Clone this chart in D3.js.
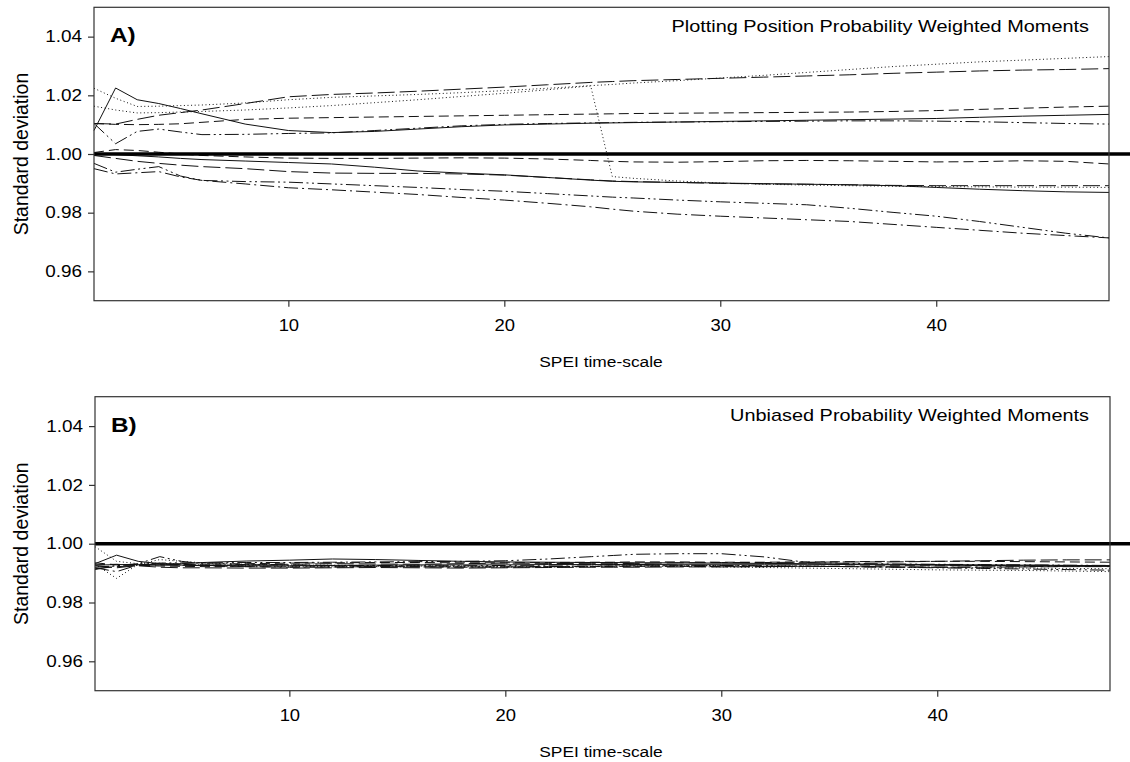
<!DOCTYPE html>
<html><head><meta charset="utf-8">
<script src="https://cdn.jsdelivr.net/npm/d3@7"></script>
<style>
html,body{margin:0;padding:0;background:#fff;}
text{font-family:"Liberation Sans",Arial,sans-serif;fill:#000;}
</style></head>
<body><svg id="chart" width="1130" height="762"></svg>
<script>
// ---------- DATA ----------
const timeScale = [1,2,3,4,5,6,8,10,12,14,16,18,20,22,24,25,26,28,30,32,34,36,38,40,42,44,46,48];
const yTicks = [0.96,0.98,1.00,1.02,1.04];
const xTicks = [10,20,30,40];
const referenceValue = 1.00;
const panelLabels = ["A)","B)"];
const panelTitles = ["Plotting Position Probability Weighted Moments","Unbiased Probability Weighted Moments"];
const xAxisTitle = "SPEI time-scale";
const yAxisTitle = "Standard deviation";
const lineTypes = ["dotted","dotted","longdash","dash","solid","dashdotdot","dash","solid","longdash","dashdotdot","dashdot"];

// Panel A: plotting-position PWM
const ppwmDotted1   = [1.0224,1.0190,1.0162,1.0163,1.0165,1.0167,1.0174,1.0185,1.0193,1.0198,1.0203,1.0209,1.0216,1.0224,1.0233,1.0237,1.0242,1.0250,1.0259,1.0268,1.0278,1.0288,1.0298,1.0306,1.0314,1.0320,1.0326,1.0332];
const ppwmDotted2   = [1.0163,1.0150,1.0140,1.0141,1.0143,1.0145,1.0150,1.0157,1.0165,1.0175,1.0185,1.0196,1.0207,1.0219,1.0232,0.9923,0.9917,0.9908,0.9901,0.9897,0.9894,0.9892,0.9890,0.9889,0.9888,0.9887,0.9887,0.9886];
const ppwmLongDash1 = [1.0104,1.0102,1.0118,1.0132,1.0141,1.0150,1.0172,1.0195,1.0203,1.0208,1.0214,1.0221,1.0228,1.0236,1.0244,1.0247,1.0250,1.0254,1.0258,1.0262,1.0266,1.0270,1.0275,1.0279,1.0283,1.0286,1.0288,1.0291];
const ppwmDash1     = [1.0104,1.0101,1.0100,1.0101,1.0103,1.0108,1.0118,1.0122,1.0124,1.0126,1.0128,1.0130,1.0132,1.0134,1.0136,1.0137,1.0138,1.0139,1.0140,1.0141,1.0142,1.0143,1.0145,1.0148,1.0152,1.0156,1.0160,1.0163];
const ppwmSolid1    = [1.0080,1.0225,1.0185,1.0172,1.0155,1.0137,1.0102,1.0080,1.0073,1.0077,1.0085,1.0093,1.0099,1.0102,1.0105,1.0106,1.0107,1.0109,1.0111,1.0113,1.0115,1.0117,1.0119,1.0121,1.0125,1.0129,1.0132,1.0135];
const ppwmDashDotDot1 = [1.0104,1.0035,1.0077,1.0085,1.0075,1.0066,1.0067,1.0070,1.0072,1.0080,1.0088,1.0096,1.0101,1.0104,1.0106,1.0107,1.0108,1.0109,1.0110,1.0111,1.0112,1.0113,1.0113,1.0112,1.0110,1.0107,1.0104,1.0102];
const ppwmDash2     = [1.0005,1.0015,1.0012,1.0006,1.0000,0.9995,0.9990,0.9986,0.9985,0.9985,0.9986,0.9987,0.9986,0.9983,0.9978,0.9975,0.9973,0.9972,0.9974,0.9977,0.9978,0.9977,0.9975,0.9973,0.9974,0.9977,0.9975,0.9966];
const ppwmSolid2    = [1.0000,0.9998,0.9994,0.9990,0.9985,0.9981,0.9976,0.9971,0.9966,0.9955,0.9942,0.9935,0.9929,0.9920,0.9911,0.9907,0.9905,0.9903,0.9901,0.9899,0.9897,0.9895,0.9892,0.9886,0.9880,0.9875,0.9871,0.9869];
const ppwmLongDash2 = [0.9995,0.9985,0.9975,0.9968,0.9962,0.9957,0.9950,0.9940,0.9935,0.9934,0.9934,0.9932,0.9928,0.9920,0.9912,0.9908,0.9906,0.9903,0.9900,0.9898,0.9897,0.9895,0.9893,0.9892,0.9892,0.9892,0.9892,0.9892];
const ppwmDashDotDot2 = [0.9968,0.9938,0.9948,0.9957,0.9925,0.9910,0.9906,0.9904,0.9898,0.9892,0.9886,0.9879,0.9873,0.9865,0.9857,0.9853,0.9850,0.9843,0.9837,0.9832,0.9827,0.9815,0.9801,0.9788,0.9770,0.9750,0.9730,0.9714];
const ppwmDashDot   = [0.9950,0.9932,0.9936,0.9940,0.9922,0.9910,0.9898,0.9885,0.9878,0.9870,0.9862,0.9852,0.9843,0.9832,0.9820,0.9812,0.9805,0.9795,0.9788,0.9782,0.9776,0.9770,0.9760,0.9750,0.9740,0.9730,0.9722,0.9714];

// Panel B: unbiased PWM
const upwmDotted1   = [0.9990,0.9940,0.9932,0.9934,0.9930,0.9928,0.9925,0.9922,0.9922,0.9923,0.9925,0.9924,0.9922,0.9921,0.9922,0.9923,0.9924,0.9925,0.9926,0.9925,0.9924,0.9922,0.9920,0.9919,0.9918,0.9917,0.9916,0.9915];
const upwmDotted2   = [0.9930,0.9882,0.9930,0.9946,0.9940,0.9935,0.9930,0.9928,0.9927,0.9925,0.9924,0.9922,0.9920,0.9921,0.9923,0.9924,0.9924,0.9923,0.9921,0.9919,0.9917,0.9915,0.9913,0.9911,0.9910,0.9909,0.9907,0.9905];
const upwmLongDash1 = [0.9925,0.9918,0.9926,0.9928,0.9927,0.9926,0.9928,0.9930,0.9932,0.9931,0.9930,0.9932,0.9934,0.9933,0.9932,0.9932,0.9933,0.9935,0.9936,0.9936,0.9937,0.9938,0.9938,0.9940,0.9942,0.9944,0.9945,0.9945];
const upwmDash1     = [0.9935,0.9928,0.9927,0.9928,0.9929,0.9930,0.9932,0.9934,0.9935,0.9936,0.9936,0.9935,0.9935,0.9936,0.9937,0.9937,0.9938,0.9938,0.9937,0.9937,0.9938,0.9939,0.9940,0.9940,0.9940,0.9939,0.9938,0.9937];
const upwmSolid1    = [0.9932,0.9961,0.9940,0.9932,0.9932,0.9936,0.9941,0.9944,0.9948,0.9946,0.9943,0.9940,0.9938,0.9937,0.9936,0.9936,0.9935,0.9935,0.9934,0.9933,0.9932,0.9931,0.9930,0.9929,0.9928,0.9927,0.9926,0.9925];
const upwmDashDotDot1 = [0.9920,0.9925,0.9930,0.9934,0.9935,0.9935,0.9936,0.9936,0.9937,0.9938,0.9939,0.9940,0.9942,0.9948,0.9956,0.9960,0.9964,0.9966,0.9966,0.9955,0.9936,0.9933,0.9931,0.9930,0.9929,0.9928,0.9927,0.9926];
const upwmDash2     = [0.9928,0.9930,0.9926,0.9924,0.9923,0.9922,0.9922,0.9921,0.9921,0.9922,0.9922,0.9921,0.9921,0.9922,0.9922,0.9923,0.9923,0.9923,0.9922,0.9922,0.9923,0.9924,0.9925,0.9925,0.9926,0.9927,0.9926,0.9925];
const upwmSolid2    = [0.9927,0.9929,0.9929,0.9928,0.9927,0.9926,0.9925,0.9925,0.9926,0.9927,0.9928,0.9928,0.9928,0.9929,0.9929,0.9929,0.9929,0.9930,0.9930,0.9930,0.9930,0.9929,0.9928,0.9927,0.9926,0.9925,0.9924,0.9923];
const upwmLongDash2 = [0.9915,0.9922,0.9925,0.9920,0.9918,0.9918,0.9917,0.9917,0.9918,0.9919,0.9918,0.9917,0.9918,0.9919,0.9920,0.9920,0.9920,0.9921,0.9921,0.9922,0.9923,0.9922,0.9921,0.9920,0.9920,0.9921,0.9922,0.9922];
const upwmDashDotDot2 = [0.9912,0.9926,0.9932,0.9956,0.9940,0.9932,0.9929,0.9927,0.9926,0.9926,0.9925,0.9925,0.9926,0.9927,0.9928,0.9928,0.9928,0.9927,0.9926,0.9925,0.9924,0.9922,0.9920,0.9918,0.9916,0.9914,0.9912,0.9910];
const upwmDashDot   = [0.9918,0.9905,0.9928,0.9931,0.9928,0.9925,0.9922,0.9920,0.9921,0.9922,0.9921,0.9920,0.9921,0.9922,0.9924,0.9924,0.9925,0.9925,0.9925,0.9924,0.9923,0.9922,0.9921,0.9920,0.9921,0.9922,0.9923,0.9924];

const panelASeries = [ppwmDotted1,ppwmDotted2,ppwmLongDash1,ppwmDash1,ppwmSolid1,ppwmDashDotDot1,ppwmDash2,ppwmSolid2,ppwmLongDash2,ppwmDashDotDot2,ppwmDashDot];
const panelBSeries = [upwmDotted1,upwmDotted2,upwmLongDash1,upwmDash1,upwmSolid1,upwmDashDotDot1,upwmDash2,upwmSolid2,upwmLongDash2,upwmDashDotDot2,upwmDashDot];

// ---------- STYLE / LAYOUT ----------
const dashes = {solid:null, dotted:"1,2.6", longdash:"17,5", dash:"10,5", dashdot:"14,4,2,4", dashdotdot:"14,3.5,2,3.5,2,3.5"};
const panels = [
  {top:7.3, bottom:300.7, left:94, right:1109, series:panelASeries},
  {top:396.7, bottom:690.7, left:95, right:1110, series:panelBSeries}
];

const svg = d3.select("#chart");
function stretch(sel, k){
  sel.each(function(){
    const len = this.getComputedTextLength();
    this.setAttribute("textLength", (len*k).toFixed(2));
    this.setAttribute("lengthAdjust","spacingAndGlyphs");
  });
}

panels.forEach((p, i) => {
  const x = d3.scaleLinear().domain([1,48]).range([p.left, p.right]);
  const y = d3.scaleLinear().domain([0.95,1.05]).range([p.bottom, p.top]);
  const g = svg.append("g");

  // series lines
  const line = d3.line().x((d,j)=>x(timeScale[j])).y(d=>y(d));
  p.series.forEach((vals, k) => {
    g.append("path").datum(vals)
      .attr("d", line)
      .attr("fill","none")
      .attr("stroke","#111")
      .attr("stroke-width",1)
      .attr("stroke-dasharray", dashes[lineTypes[k]]);
  });

  // reference line at 1.00, extends beyond the right frame
  g.append("line")
    .attr("x1", p.left).attr("x2", 1130)
    .attr("y1", y(referenceValue)).attr("y2", y(referenceValue))
    .attr("stroke","#000").attr("stroke-width",3.5);

  // frame
  g.append("rect")
    .attr("x", p.left).attr("y", p.top)
    .attr("width", p.right-p.left).attr("height", p.bottom-p.top)
    .attr("fill","none").attr("stroke","#333").attr("stroke-width",1.2);

  // axes
  const yAx = g.append("g").attr("transform",`translate(${p.left},0)`)
    .call(d3.axisLeft(y).tickValues(yTicks).tickFormat(d3.format(".2f")).tickSize(6).tickPadding(6));
  const xAx = g.append("g").attr("transform",`translate(0,${p.bottom})`)
    .call(d3.axisBottom(x).tickValues(xTicks).tickSize(6).tickPadding(10));
  [yAx,xAx].forEach(a=>{
    a.select(".domain").remove();
    a.selectAll(".tick line").attr("stroke","#333").attr("stroke-width",1.2);
    a.selectAll("text").attr("font-size",16).attr("fill","#000")
      .style("font-family",'"Liberation Sans",Arial,sans-serif');
  });
  xAx.selectAll("text").attr("dy",null).attr("y",null)
    .attr("transform",null);
  xAx.selectAll(".tick text").attr("y",30);
  stretch(yAx.selectAll("text"), 1.18);
  stretch(xAx.selectAll("text"), 1.15);

  // x-axis title
  const xt = g.append("text").attr("x", 601).attr("y", p.bottom+66)
    .attr("text-anchor","middle").attr("font-size",15.5).text(xAxisTitle);
  stretch(xt, 1.12);

  // y-axis title
  g.append("text")
    .attr("transform",`translate(28,${y(1.0)}) rotate(-90)`)
    .attr("text-anchor","middle").attr("font-size",19.5).text(yAxisTitle);

  // panel label
  const pl = g.append("text").attr("x", p.left+16).attr("y", p.top+35)
    .attr("font-size",20).attr("font-weight","bold").text(panelLabels[i]);
  stretch(pl, 1.22);

  // panel title
  const pt = g.append("text").attr("x", 1089).attr("y", p.top+24.4)
    .attr("text-anchor","end").attr("font-size",17).text(panelTitles[i]);
  stretch(pt, 1.17);
});
</script>
</body></html>
